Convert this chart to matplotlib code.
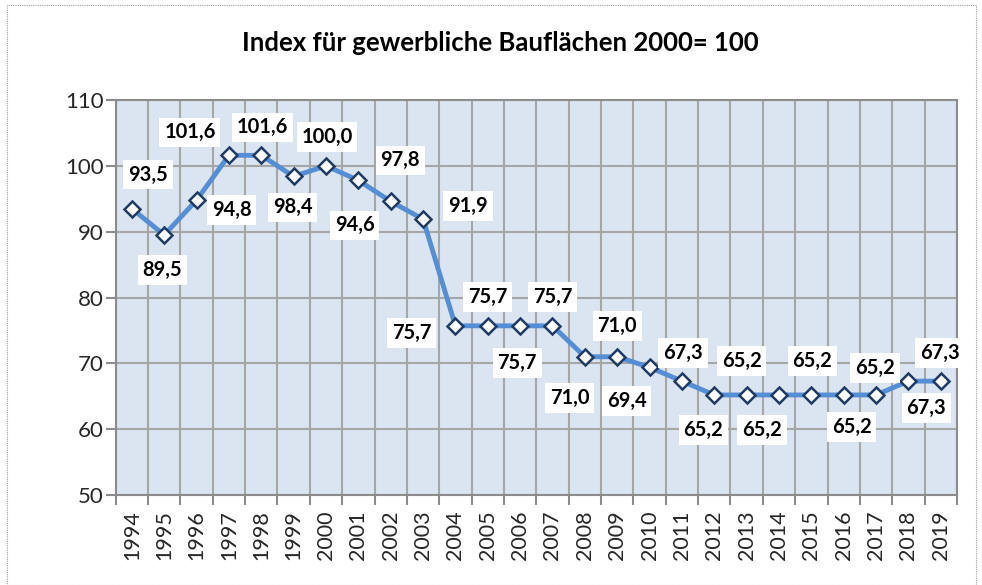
import numpy as np
import matplotlib
matplotlib.use("Agg")
import matplotlib.pyplot as plt
from matplotlib.patches import Rectangle

plt.rcParams['font.family'] = ['Lato', 'DejaVu Sans']

years = [str(y) for y in range(1994, 2020)]
index = [93.5, 89.5, 94.8, 101.6, 101.6, 98.4, 100.0, 97.8, 94.6, 91.9,
         75.7, 75.7, 75.7, 75.7, 71.0, 71.0, 69.4, 67.3, 65.2, 65.2,
         65.2, 65.2, 65.2, 65.2, 67.3, 67.3]

# label offsets in pixels (dx, dy) from each marker
lab_dx = [16, -2, 35, -39, 1, -1, 1, 42, -36, 45, -44, 0, -3, 0, -15, 0,
          -23, 1, -11, -5, -17, 1, 8, -1, 18, -1]
lab_dy = [34, -35, -10, 23, 28, -31, 29, 20, -24, 13, -7, 29, -37, 29, -41,
          31, -34, 28, -35, 34, -35, 34, -32, 27, -27, 28]

fig = plt.figure(figsize=(9.82, 5.85), dpi=100)
fig.patches.append(Rectangle((0.007, 0.0), 0.987, 0.991, transform=fig.transFigure,
                             fill=False, ec='#a0a0a0', lw=0.8, ls=(0, (1, 1))))

ax = fig.add_axes([0.1178, 0.1538, 0.8567, 0.6752])
ax.set_facecolor('#dbe5f1')

x = np.arange(len(years))
ax.plot(x, index, color='#558ed5', lw=3.5, marker='D', ms=8.5, mfc='white',
        mec='#1f3b63', mew=1.8, zorder=3)

for i, v in enumerate(index):
    ax.annotate(f"{v:.1f}".replace('.', ','), (x[i], v),
                xytext=(lab_dx[i], lab_dy[i]), textcoords='offset pixels',
                ha='center', va='center', fontsize=14.5, fontweight='bold',
                bbox=dict(fc='white', ec='none', pad=3.5), zorder=4)

ax.set_xlim(-0.5, len(years) - 0.5)
ax.set_ylim(50, 110)
ax.set_yticks(range(50, 111, 10))
ax.set_xticks(x)
ax.set_xticklabels(years, rotation=90)
ax.set_xticks(np.arange(-0.5, len(years)), minor=True)

ax.tick_params(axis='x', which='major', length=0, pad=11, labelsize=15.5,
               labelcolor='#262626')
ax.tick_params(axis='x', which='minor', length=7, width=1.5, color='#8c8c8c')
ax.tick_params(axis='y', length=7, width=1.5, color='#8c8c8c', labelsize=16,
               labelcolor='#262626', pad=1.5)

ax.grid(True, which='minor', axis='x', color='#a6a6a6', lw=1.5)
ax.grid(True, which='major', axis='y', color='#a6a6a6', lw=1.5)
ax.set_axisbelow(True)
for s in ax.spines.values():
    s.set_color('#8c8c8c')
    s.set_linewidth(1.5)

fig.text(0.509, 0.926, "Index für gewerbliche Bauflächen 2000= 100",
         ha='center', va='center', fontsize=18.5, fontweight='bold')

fig.savefig('out.png', dpi=100)
